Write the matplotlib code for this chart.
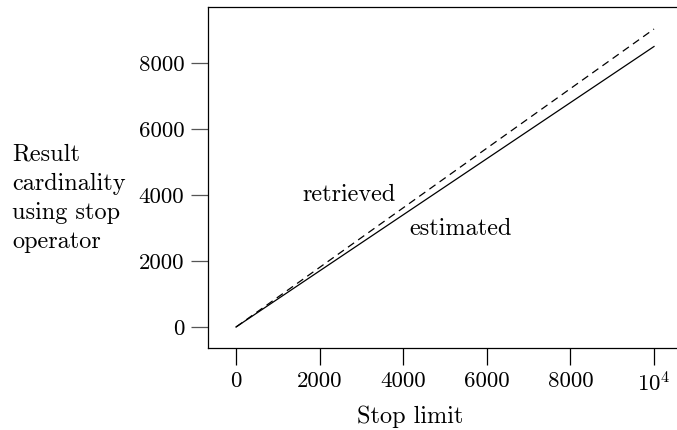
import numpy as np
import matplotlib
matplotlib.use("Agg")
import matplotlib.pyplot as plt

# data
stop_limit = [0, 2000, 4000, 6000, 8000, 10000]
retrieved = [0, 1806, 3612, 5418, 7224, 9030]
estimated = [0, 1700, 3400, 5100, 6800, 8500]
xtick_vals = [0, 2000, 4000, 6000, 8000, 10000]
xtick_labels = ['0', '2000', '4000', '6000', '8000', r'$10^4$']
ytick_vals = [0, 2000, 4000, 6000, 8000]

plt.rcParams['font.family'] = 'serif'
plt.rcParams['font.serif'] = ['cmr10']
plt.rcParams['mathtext.fontset'] = 'cm'
plt.rcParams['axes.unicode_minus'] = False
fs = 16.5   # tick labels
fs2 = 17.5  # other text

fig = plt.figure(figsize=(6.77, 4.30), dpi=100)
ax = fig.add_axes([208/677, 82/430, 469/677, 341/430])

ax.plot(stop_limit, retrieved, color='black', lw=0.9, ls=(0, (6, 4)))
ax.plot(stop_limit, estimated, color='black', lw=0.9)

ax.text(2700, 4000, 'retrieved', fontsize=fs2, ha='center', va='center')
ax.text(5380, 2970, 'estimated', fontsize=fs2, ha='center', va='center')

ax.set_xlim(-670, 10550)
ax.set_ylim(-636, 9697)
ax.set_xticks(xtick_vals)
ax.set_xticklabels(xtick_labels)
ax.set_yticks(ytick_vals)
ax.tick_params(direction='out', length=12, width=0.9, pad=5, labelsize=fs)
ax.tick_params(axis='y', color='#555555')
ax.spines['right'].set_visible(False)
for s in ['left', 'top', 'bottom']:
    ax.spines[s].set_linewidth(0.9)

ax.set_xlabel('Stop limit', fontsize=fs2)
ax.xaxis.set_label_coords(0.431, -0.17)

fig.text(12/677, 1 - 198/430, 'Result\ncardinality\nusing stop\noperator',
         fontsize=fs2, ha='left', va='center', linespacing=1.4)

fig.savefig('out.png', dpi=100)
